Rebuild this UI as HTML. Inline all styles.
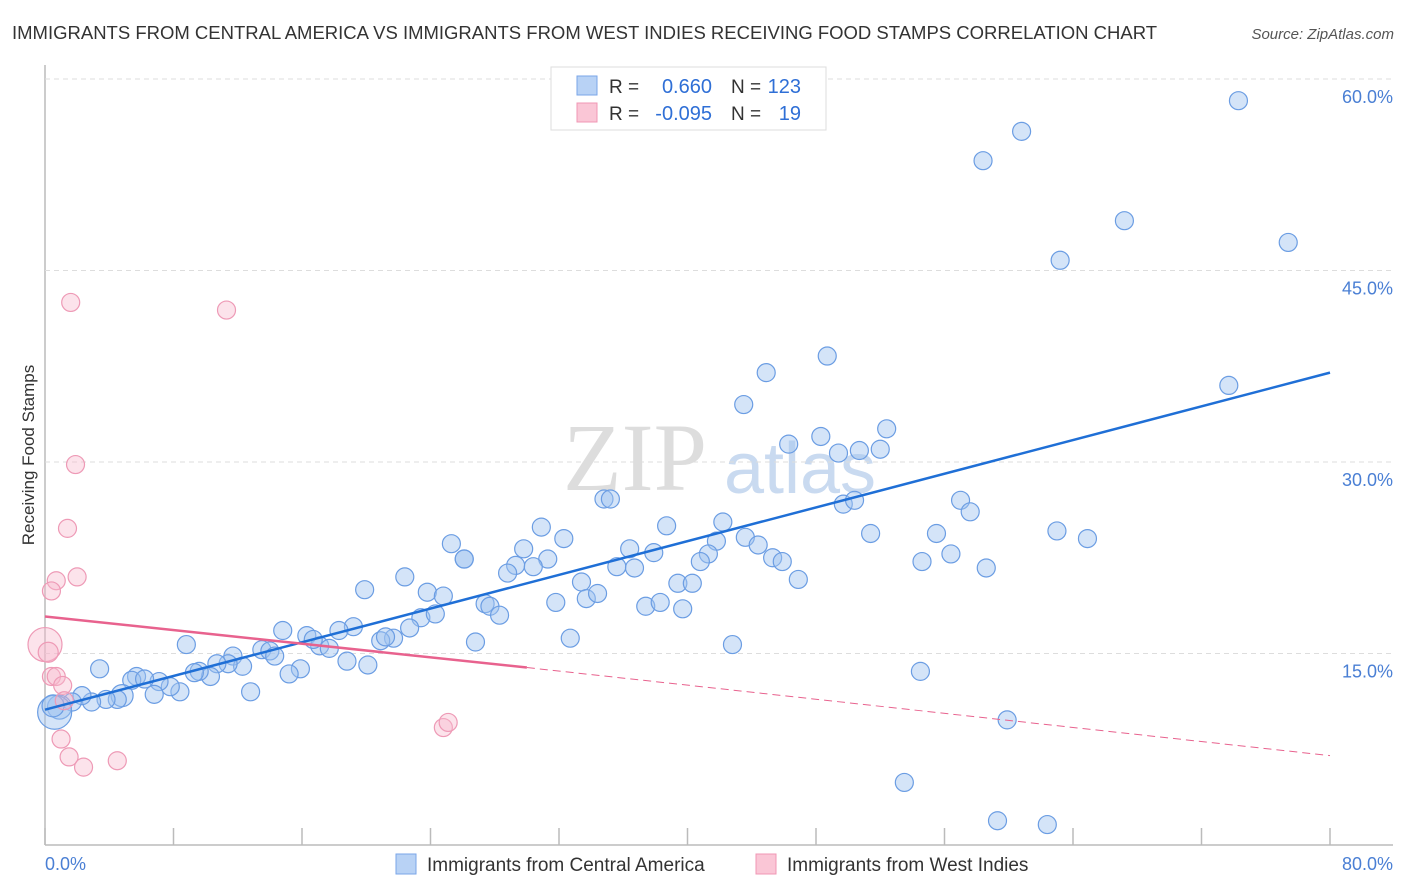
<!DOCTYPE html>
<html><head><meta charset="utf-8"><style>
body{margin:0;background:#fff;font-family:"Liberation Sans",sans-serif}
svg{display:block}
</style></head><body>
<svg id="c" width="1406" height="892">
<text x="12" y="39" font-size="18.5" fill="#333">IMMIGRANTS FROM CENTRAL AMERICA VS IMMIGRANTS FROM WEST INDIES RECEIVING FOOD STAMPS CORRELATION CHART</text>
<text x="1394" y="39" font-size="15" fill="#555" font-style="italic" text-anchor="end">Source: ZipAtlas.com</text>
<text x="635" y="490" font-size="96" fill="#ddd" font-family="Liberation Serif,serif" text-anchor="middle">ZIP</text>
<text x="800" y="493" font-size="72" fill="#c9daf0" text-anchor="middle">atlas</text>
<text transform="translate(34,455) rotate(-90)" font-size="17" fill="#333" text-anchor="middle">Receiving Food Stamps</text>
<g id="grid"></g><g id="marks"></g>
<g>
<rect x="551" y="67" width="275" height="63" fill="#fff" stroke="#ddd"/>
<rect x="577" y="76" width="20" height="19" fill="#b8d2f5" stroke="#7aa6e8"/>
<rect x="577" y="103" width="20" height="19" fill="#fac6d6" stroke="#f097b4"/>
<text x="609" y="93" font-size="19" fill="#333">R =</text>
<text x="712" y="93" font-size="20" fill="#2f6fd6" text-anchor="end">0.660</text>
<text x="731" y="93" font-size="19" fill="#333">N =</text>
<text x="801" y="93" font-size="20" fill="#2f6fd6" text-anchor="end">123</text>
<text x="609" y="120" font-size="19" fill="#333">R =</text>
<text x="712" y="120" font-size="20" fill="#2f6fd6" text-anchor="end">-0.095</text>
<text x="731" y="120" font-size="19" fill="#333">N =</text>
<text x="801" y="120" font-size="20" fill="#2f6fd6" text-anchor="end">19</text>
</g>
<g>
<rect x="396" y="854" width="20" height="20" fill="#b8d2f5" stroke="#7aa6e8"/>
<text x="427" y="871" font-size="19" fill="#333">Immigrants from Central America</text>
<rect x="756" y="854" width="20" height="20" fill="#fac6d6" stroke="#f097b4"/>
<text x="787" y="871" font-size="19" fill="#333">Immigrants from West Indies</text>
</g>
</svg>
<script>
const xTicks=[0,8,16,24,32,40,48,56,64,72,80];
const yTicks=[15,30,45,60];
const blueX=[74.3,60.8,58.4,67.2,63.2,77.4,48.7,44.9,43.5,73.7,52.4,48.3,46.3,49.4,50.7,52.0,34.8,35.2,38.7,42.2,30.9,25.3,26.1,26.1,29.8,31.3,32.3,29.3,28.8,30.4,36.4,37.9,41.8,43.6,44.4,41.3,40.8,45.3,45.9,35.6,36.7,39.4,40.3,46.9,33.4,33.7,34.4,31.8,27.4,27.7,28.3,37.4,38.3,39.7,22.4,19.9,23.8,24.8,23.4,24.3,22.7,21.7,20.9,21.2,19.2,18.3,32.7,26.8,42.8,49.7,50.4,51.4,55.5,57.0,57.6,54.6,56.4,58.6,63.0,64.9,54.5,59.9,53.5,59.3,62.4,8.8,14.8,16.3,17.1,17.7,16.7,18.8,20.1,15.9,15.2,13.5,14.0,14.3,11.7,12.3,11.4,10.7,10.3,9.6,9.3,12.8,8.4,7.8,7.1,6.8,5.7,5.4,6.2,4.8,4.5,3.8,3.4,2.9,2.3,1.7,0.9,0.6,0.5];
const blueY=[58.3,55.9,53.6,48.9,45.8,47.2,38.3,37.0,34.5,36.0,32.6,32.0,31.4,30.7,30.9,31.0,27.1,27.1,25.0,25.3,24.9,23.6,22.4,22.4,23.2,22.4,24.0,21.9,21.3,21.8,23.2,22.9,23.8,24.1,23.5,22.8,22.2,22.5,22.2,21.8,21.7,20.5,20.5,20.8,20.6,19.3,19.7,19.0,18.9,18.7,18.0,18.7,19.0,18.5,21.0,20.0,19.8,19.5,17.8,18.1,17.0,16.2,16.0,16.3,17.1,16.8,16.2,15.9,15.7,26.7,27.0,24.4,24.4,27.0,26.1,22.2,22.8,21.7,24.6,24.0,13.6,9.8,4.9,1.9,1.6,15.7,16.8,16.4,15.6,15.4,16.1,14.4,14.1,13.8,13.4,15.3,15.2,14.8,14.8,14.0,14.2,14.2,13.2,13.6,13.5,12.0,12.0,12.4,12.8,11.8,13.2,12.9,13.0,11.7,11.4,11.4,13.8,11.2,11.7,11.2,10.8,10.4,10.9];
const blueR=[];for(let i=0;i<blueX.length;i++)blueR.push(9);
blueR[blueR.length-2]=17;blueR[blueR.length-10]=11;blueR[blueR.length-3]=12;blueR[blueR.length-1]=11;
const pinkX=[1.6,11.3,1.9,1.4,2.0,0.7,0.4,0.0,0.2,0.4,0.7,1.1,1.2,1.0,1.5,2.4,4.5,24.8,25.1];
const pinkY=[42.5,41.9,29.8,24.8,21.0,20.7,19.9,15.7,15.1,13.2,13.2,12.5,11.3,8.3,6.9,6.1,6.6,9.2,9.6];
const pinkR=[9,9,9,9,9,9,9,17,10,9,9,9,9,9,9,9,9,9,9];
const blueLine=[0,10.6,80,37.0];
const pinkLine=[0,17.9,30,13.9,80,7.0];
const X=v=>45+v/80*1285, Y=v=>845-v/15*191.5;
const NS='http://www.w3.org/2000/svg';
const grid=document.getElementById('grid'), marks=document.getElementById('marks');
function mk(p,tag,a){const e=document.createElementNS(NS,tag);for(const k in a)e.setAttribute(k,a[k]);p.appendChild(e);return e;}
let e=mk(grid,'line',{x1:45,y1:65,x2:45,y2:845,stroke:'#bbb','stroke-width':1.5});


e=mk(grid,'line',{x1:45,y1:845,x2:1393,y2:845,stroke:'#bbb','stroke-width':1.5});


yTicks.forEach(t=>{
 let g=mk(grid,'line',{x1:45,x2:1393,y1:Y(t),y2:Y(t),stroke:'#ddd','stroke-dasharray':'5,4'});
 
 
 let l=mk(grid,'text',{x:1393,y:Y(t)+24,'font-size':18,fill:'#4a7fd4','text-anchor':'end'});l.textContent=t.toFixed(1)+'%';
 
 
});
xTicks.forEach(t=>{
 let g=mk(grid,'line',{x1:X(t),x2:X(t),y1:828,y2:845,stroke:'#bbb','stroke-width':1.5});
 
 
});
[[0,'start'],[80,'end']].forEach(([t,a])=>{
 let l=mk(grid,'text',{x:t==0?45:1393,y:870,'font-size':18,fill:'#4a7fd4','text-anchor':a});l.textContent=t.toFixed(1)+'%';
 
 
});
blueX.forEach((v,i)=>{
 let c=mk(marks,'circle',{cx:X(v),cy:Y(blueY[i]),r:blueR[i],fill:'rgba(160,196,240,0.45)',stroke:'#6b9de3','stroke-width':1.2});
 
 
});
pinkX.forEach((v,i)=>{
 let c=mk(marks,'circle',{cx:X(v),cy:Y(pinkY[i]),r:pinkR[i],fill:'rgba(248,186,206,0.4)',stroke:'#ee9ab6','stroke-width':1.2});
 
 
});
e=mk(marks,'line',{x1:X(blueLine[0]),y1:Y(blueLine[1]),x2:X(blueLine[2]),y2:Y(blueLine[3]),stroke:'#1f6fd6','stroke-width':2.5});


e=mk(marks,'line',{x1:X(pinkLine[0]),y1:Y(pinkLine[1]),x2:X(pinkLine[2]),y2:Y(pinkLine[3]),stroke:'#e8628e','stroke-width':2.5});


e=mk(marks,'line',{x1:X(pinkLine[2]),y1:Y(pinkLine[3]),x2:X(pinkLine[4]),y2:Y(pinkLine[5]),stroke:'#e8628e','stroke-width':1,'stroke-dasharray':'8,5'});


</script>
</body></html>
